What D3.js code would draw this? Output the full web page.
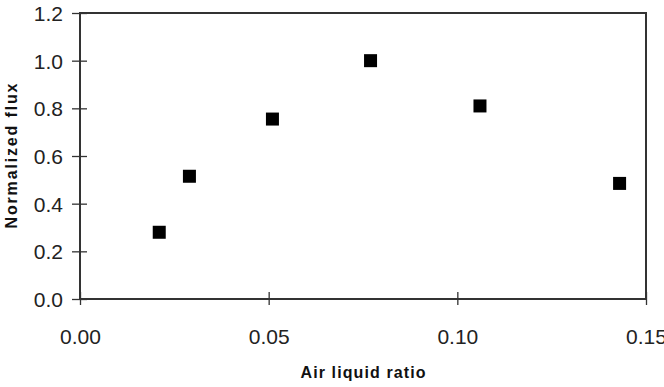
<!DOCTYPE html>
<html>
<head>
<meta charset="utf-8">
<style>
  body { margin: 0; background: #fff; }
  text { font-family: 'Liberation Sans', Arial, sans-serif; }
  .tick text { font-size: 21px; fill: #222; }
  .title { font-size: 16px; font-weight: bold; fill: #111; }
</style>
</head>
<body>
<div id="chart"></div>
<script src="https://cdn.jsdelivr.net/npm/d3@7"></script>
<script>
// air liquid ratio vs normalized flux
var airRatio = [0.021, 0.029, 0.051, 0.077, 0.106, 0.143];
var normFlux = [0.28, 0.515, 0.755, 1.0, 0.81, 0.485];
var xTicks = [0, 0.05, 0.10, 0.15];
var yTicks = [0, 0.2, 0.4, 0.6, 0.8, 1.0, 1.2];

var width = 664, height = 387;
var margin = {top: 13, right: 18, bottom: 88, left: 80};

var svg = d3.select('#chart').append('svg')
  .attr('width', width)
  .attr('height', height);

var x = d3.scaleLinear().domain([0, 0.15]).range([margin.left, width - margin.right]);
var y = d3.scaleLinear().domain([0, 1.2]).range([height - margin.bottom, margin.top]);

// frame
svg.append('rect')
  .attr('x', x(0)).attr('y', y(1.2))
  .attr('width', x(0.15) - x(0)).attr('height', y(0) - y(1.2))
  .attr('fill', 'none').attr('stroke', '#333').attr('stroke-width', 2);

var xAxis = svg.append('g')
  .attr('transform', 'translate(0,' + y(0) + ')')
  .call(d3.axisBottom(x).tickValues(xTicks).tickFormat(d3.format('.2f')).tickSize(6).tickPadding(24));
xAxis.select('.domain').remove();
xAxis.selectAll('.tick line').attr('y1', -7).attr('stroke', '#333').attr('stroke-width', 1.3);

var yAxis = svg.append('g')
  .attr('transform', 'translate(' + x(0) + ',0)')
  .call(d3.axisLeft(y).tickValues(yTicks).tickFormat(d3.format('.1f')).tickSize(7).tickPadding(10));
yAxis.select('.domain').remove();
yAxis.selectAll('.tick line').attr('x1', -8).attr('x2', 7).attr('stroke', '#333').attr('stroke-width', 1.3);
yAxis.selectAll('.tick text').attr('dy', '0.35em');

// markers
var size = 13;
svg.selectAll('rect.pt')
  .data(airRatio)
  .enter().append('rect')
  .attr('class', 'pt')
  .attr('x', function(d) { return x(d) - size / 2; })
  .attr('y', function(d, i) { return y(normFlux[i]) - size / 2; })
  .attr('width', size).attr('height', size)
  .attr('fill', '#000');

svg.append('text')
  .attr('class', 'title')
  .attr('x', (x(0) + x(0.15)) / 2)
  .attr('y', 378)
  .attr('text-anchor', 'middle')
  .attr('textLength', 125)
  .attr('lengthAdjust', 'spacing')
  .text('Air liquid ratio');

svg.append('text')
  .attr('class', 'title')
  .attr('transform', 'translate(17,' + ((y(0) + y(1.2)) / 2) + ') rotate(-90)')
  .attr('text-anchor', 'middle')
  .attr('textLength', 145)
  .attr('lengthAdjust', 'spacing')
  .text('Normalized flux');
</script>
</body>
</html>
